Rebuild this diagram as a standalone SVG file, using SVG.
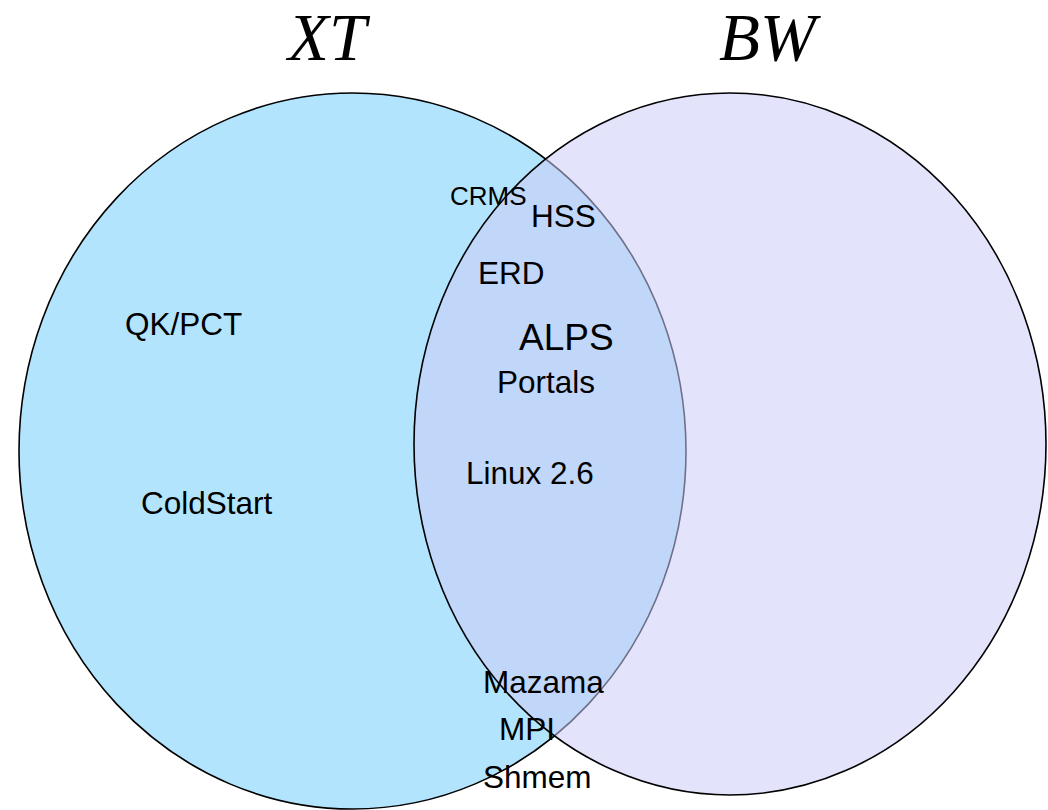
<svg xmlns="http://www.w3.org/2000/svg" width="1048" height="810" viewBox="0 0 1048 810">
<style>
.lbl{font-family:"Liberation Sans",Arial,sans-serif;font-size:31.5px;fill:#000}
.ttl{font-family:"Liberation Serif","Times New Roman",serif;font-style:italic;font-size:67px;fill:#000}
.set{stroke:#000;stroke-width:1.6}
</style>
<rect width="1048" height="810" fill="#fff"/>
<g id="xt">
<ellipse class="set" cx="352.5" cy="451" rx="333.5" ry="358" fill="#B2E5FD"/>
</g>
<g id="bw">
<ellipse class="set" cx="730" cy="444" rx="316" ry="351" fill="#CCCCF8" fill-opacity="0.55"/>
</g>
<g id="connectors"></g>
<g id="titles">
<text class="ttl" x="288" y="60">XT</text>
<text class="ttl" x="719" y="60">BW</text>
</g>
<g id="labels">
<text class="lbl" x="125" y="335">QK/PCT</text>
<text class="lbl" x="141" y="514">ColdStart</text>
<text class="lbl" x="450" y="205" style="font-size:26px">CRMS</text>
<text class="lbl" x="531" y="227">HSS</text>
<text class="lbl" x="478" y="284">ERD</text>
<text class="lbl" x="519" y="350" style="font-size:37px">ALPS</text>
<text class="lbl" x="497" y="393">Portals</text>
<text class="lbl" x="466" y="484">Linux 2.6</text>
<text class="lbl" x="483" y="693">Mazama</text>
<text class="lbl" x="499" y="740">MPI</text>
<text class="lbl" x="483" y="788">Shmem</text>
</g>
</svg>
